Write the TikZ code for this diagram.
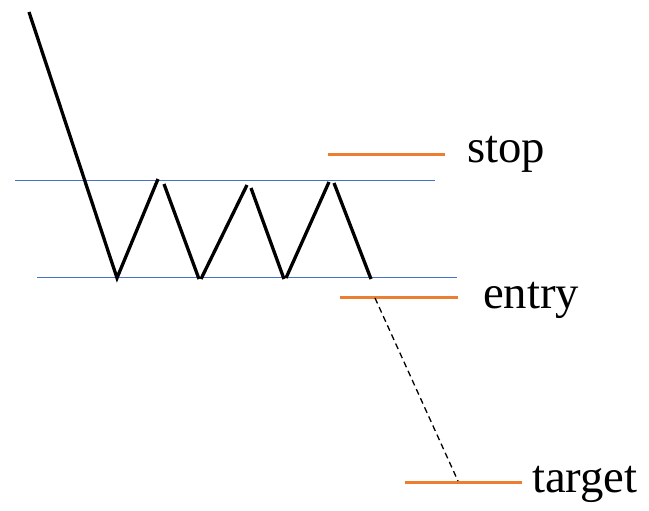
\documentclass[tikz,border=0pt]{standalone}
\usepackage{fontspec}
\setmainfont{Liberation Serif}
\usetikzlibrary{math}
\definecolor{myorange}{RGB}{237,125,49}
\definecolor{myblue}{RGB}{68,114,196}

\begin{document}
\begin{tikzpicture}[x=1pt,y=-1pt,
  price/.style={line width=3.3pt, color=black},
  band/.style={line width=1pt, color=myblue},
  level/.style={line width=3pt, color=myorange},
  lbl/.style={anchor=base west, inner sep=0pt, font=\fontsize{46.7}{50}\selectfont}]
\useasboundingbox (0,0) rectangle (649,511);
\tikzmath{
\Hi=180;
\Lo=277;
}

%channel
\coordinate (topL) at (15,\Hi);
\coordinate (topR) at (435,\Hi);
\coordinate (botL) at (37,\Lo);
\coordinate (botR) at (457,\Lo);
\draw[band] (topL) -- (topR);
\draw[band] (botL) -- (botR);

%price
\coordinate (a0) at (29,12);
\coordinate (a1) at (117,278);
\coordinate (a2) at (158,179);
\coordinate (a3) at (164,184);
\coordinate (a4) at (199,279);
\coordinate (a5) at (201,279);
\coordinate (a6) at (247,185);
\coordinate (a7) at (251,188);
\coordinate (a8) at (284,279);
\coordinate (a9) at (286,278);
\coordinate (a10) at (329,182);
\coordinate (a11) at (334,183);
\coordinate (a12) at (371,279);
\draw[price] (a0) -- (a1) -- (a2);
\foreach \i/\j in {3/4,5/6,7/8,9/10,11/12}{
  \draw[price] (a\i) -- (a\j);
}

%levels
\coordinate (stopL) at (328,155);
\coordinate (stopR) at (445,155);
\coordinate (entryL) at (340,297);
\coordinate (entryR) at (458,297);
\coordinate (targetL) at (405,482);
\coordinate (targetR) at (522,482);
\draw[level] (stopL) -- (stopR);
\draw[level] (entryL) -- (entryR);
\draw[level] (targetL) -- (targetR);

\coordinate (from) at (375,298);
\coordinate (to) at (458,481);
\draw[line width=1.3pt, dash pattern=on 6pt off 4pt] (from) -- (to);

\node[lbl] (stop) at (467,162) {stop};
\node[lbl] (entry) at (483,308) {entry};
\node[lbl] (target) at (532,492) {target};
\end{tikzpicture}
\end{document}
